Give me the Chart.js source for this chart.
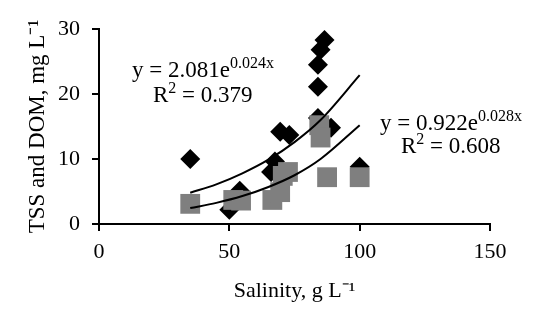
<!DOCTYPE html>
<html>
<head>
<meta charset="utf-8">
<script src="https://cdn.jsdelivr.net/npm/chart.js@4/dist/chart.umd.min.js"></script>
<style>
html,body{margin:0;padding:0;background:#fff;}
#wrap{width:550px;height:322px;}
</style>
</head>
<body>
<div id="wrap"><canvas id="c" width="550" height="322"></canvas></div>
<script>
// TSS (black diamonds)
const tssSalinity = [35, 50, 54, 66, 67.5, 69.5, 73, 84, 84, 84, 85, 86.5, 89, 100];
const tssValues   = [10, 2.2, 5.1, 8, 9.6, 14.2, 13.7, 16.3, 21.1, 24.5, 26.8, 28.3, 14.8, 8.8];
// DOM (grey squares)
const domSalinity = [35, 51.5, 54.5, 66.5, 69.5, 70.5, 72.5, 84.5, 85, 87.5, 100];
const domValues   = [3.1, 3.7, 3.6, 3.7, 4.9, 7.4, 8, 15.2, 13.3, 7.2, 7.2];
// Trendlines
const fitX      = [35, 45, 55, 65, 75, 85, 100];
const tssFitY   = [4.8, 6.1, 7.8, 9.9, 12.6, 16.0, 22.9];
const domFitY   = [2.45, 3.25, 4.3, 5.7, 7.5, 10.0, 15.2];
// Axis ticks / labels
const xTicks = [0, 50, 100, 150];
const yTicks = [0, 10, 20, 30];
const eqTss = ['y = 2.081e', '0.024x', 'R', '2', ' = 0.379'];
const eqDom = ['y = 0.922e', '0.028x', 'R', '2', ' = 0.608'];

const FONT = '"Liberation Serif", "Times New Roman", serif';
const pts = (xs, ys) => xs.map((x, i) => ({x, y: ys[i]}));

const eqPlugin = {
  id: 'eqs',
  afterDatasetsDraw(chart) {
    const ctx = chart.ctx;
    ctx.save();
    ctx.fillStyle = '#000';
    ctx.textBaseline = 'alphabetic';
    function eq(parts, x1, y1, x2, y2) {
      ctx.font = '23px ' + FONT;
      ctx.fillText(parts[0], x1, y1);
      let w = ctx.measureText(parts[0]).width;
      ctx.font = '16px ' + FONT;
      ctx.fillText(parts[1], x1 + w, y1 - 9);
      ctx.font = '23px ' + FONT;
      ctx.fillText(parts[2], x2, y2);
      let w2 = ctx.measureText(parts[2]).width;
      ctx.font = '16px ' + FONT;
      ctx.fillText(parts[3], x2 + w2, y2 - 9);
      let w3 = ctx.measureText(parts[3]).width;
      ctx.font = '23px ' + FONT;
      ctx.fillText(parts[4], x2 + w2 + w3, y2);
    }
    eq(eqTss, 132, 77, 153, 102);
    eq(eqDom, 380, 130, 401, 153);
    ctx.restore();
  }
};

new Chart(document.getElementById('c'), {
  type: 'scatter',
  data: {
    datasets: [
      {
        label: 'TSS fit', type: 'line', data: pts(fitX, tssFitY),
        borderColor: '#000', borderWidth: 2, pointRadius: 0, tension: 0.4,
        cubicInterpolationMode: 'monotone', fill: false, order: 0
      },
      {
        label: 'DOM fit', type: 'line', data: pts(fitX, domFitY),
        borderColor: '#000', borderWidth: 2, pointRadius: 0, tension: 0.4,
        cubicInterpolationMode: 'monotone', fill: false, order: 0
      },
      {
        label: 'DOM', data: pts(domSalinity, domValues),
        pointStyle: 'rect', pointRadius: 14, pointHoverRadius: 14,
        backgroundColor: '#7f7f7f', borderColor: '#7f7f7f', borderWidth: 0, order: 1
      },
      {
        label: 'TSS', data: pts(tssSalinity, tssValues),
        pointStyle: 'rectRot', pointRadius: 10, pointHoverRadius: 10,
        backgroundColor: '#000', borderColor: '#000', borderWidth: 0, order: 2
      }
    ]
  },
  options: {
    responsive: false,
    animation: false,
    events: [],
    layout: { padding: { top: 29, right: 60, left: 20, bottom: 14 } },
    plugins: { legend: { display: false }, tooltip: { enabled: false } },
    scales: {
      x: {
        type: 'linear', min: 0, max: 150,
        afterBuildTicks: s => { s.ticks = xTicks.map(v => ({value: v})); },
        afterFit: s => { s.height = 84; },
        border: { display: true, color: '#000', width: 2 },
        grid: { display: true, drawOnChartArea: false, drawTicks: true, tickLength: 7, color: '#000', lineWidth: 2 },
        ticks: { color: '#000', font: { family: FONT, size: 22 }, padding: 8, maxRotation: 0 },
        title: { display: true, text: 'Salinity, g L⁻¹', color: '#000', font: { family: FONT, size: 22 }, padding: { top: 4 } }
      },
      y: {
        type: 'linear', min: 0, max: 30,
        afterBuildTicks: s => { s.ticks = yTicks.map(v => ({value: v})); },
        afterFit: s => { s.width = 79; },
        border: { display: true, color: '#000', width: 2 },
        grid: { display: true, drawOnChartArea: false, drawTicks: true, tickLength: 7, color: '#000', lineWidth: 2 },
        ticks: { color: '#000', font: { family: FONT, size: 22 }, padding: 12 },
        title: { display: true, text: 'TSS and DOM, mg L⁻¹', color: '#000', font: { family: FONT, size: 23 }, padding: { bottom: 4 } }
      }
    }
  },
  plugins: [eqPlugin]
});
</script>
</body>
</html>
